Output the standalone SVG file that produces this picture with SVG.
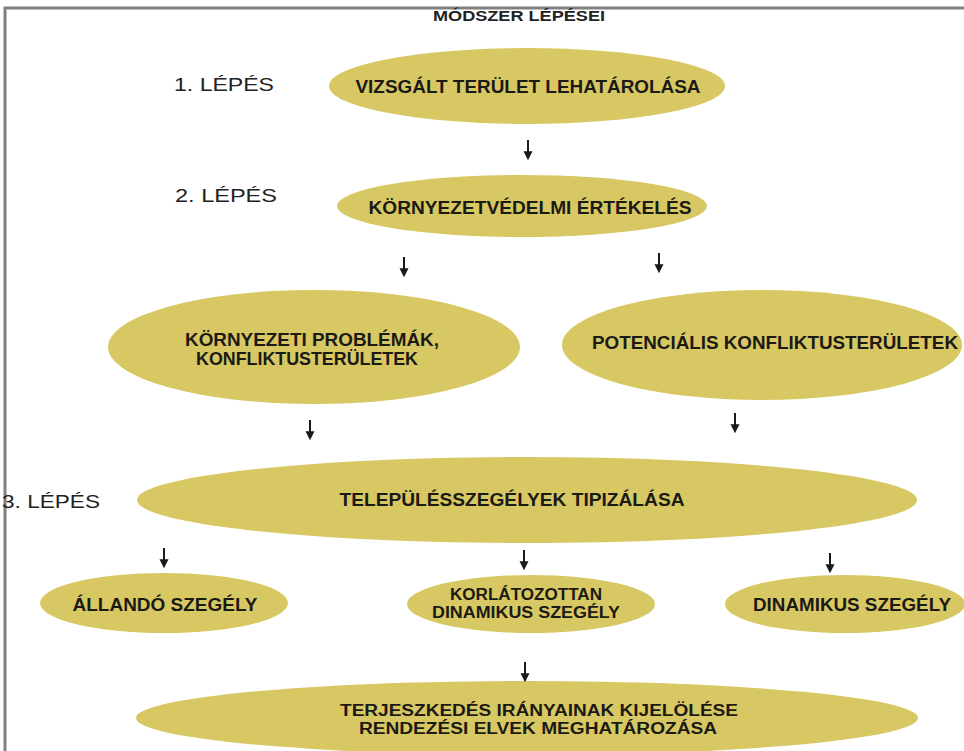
<svg xmlns="http://www.w3.org/2000/svg" width="964" height="751" viewBox="0 0 964 751">
<defs>
<style>
.node ellipse{fill:#d8c864;}
.lbl{font-family:"Liberation Sans",Arial,sans-serif;font-weight:bold;font-size:18px;fill:#1c1a14;}
.sm{font-size:16px;}
.step{font-family:"Liberation Sans",Arial,sans-serif;font-size:19px;fill:#222;}
.title{font-family:"Liberation Sans",Arial,sans-serif;font-weight:bold;font-size:14px;fill:#222;}
.conn line{stroke:#1a1a1a;stroke-width:2;marker-end:url(#ah);}
</style>
<marker id="ah" viewBox="0 0 10 10" refX="2" refY="5" markerWidth="4.5" markerHeight="5" orient="auto" markerUnits="strokeWidth">
<path d="M0,0 L10,5 L0,10 z" fill="#1a1a1a"/>
</marker>
</defs>
<rect width="964" height="751" fill="#fff"/>
<path d="M5,751 V8 H964" fill="none" stroke="#808080" stroke-width="3"/>
<text class="title" x="519" y="21" text-anchor="middle" textLength="172" lengthAdjust="spacingAndGlyphs">MÓDSZER LÉPÉSEI</text>
<text class="step" x="174" y="91" textLength="100" lengthAdjust="spacingAndGlyphs">1. LÉPÉS</text>
<text class="step" x="175" y="202" textLength="102" lengthAdjust="spacingAndGlyphs">2. LÉPÉS</text>
<text class="step" x="2" y="508" textLength="98" lengthAdjust="spacingAndGlyphs">3. LÉPÉS</text>
<g id="n1" class="node"><ellipse cx="527" cy="86" rx="198" ry="38"/><text class="lbl" x="528" y="93" text-anchor="middle" textLength="345" lengthAdjust="spacingAndGlyphs">VIZSGÁLT TERÜLET LEHATÁROLÁSA</text></g>
<g id="n2" class="node"><ellipse cx="522" cy="206" rx="185" ry="31"/><text class="lbl" x="530" y="214" text-anchor="middle" textLength="323" lengthAdjust="spacingAndGlyphs">KÖRNYEZETVÉDELMI ÉRTÉKELÉS</text></g>
<g id="n3" class="node"><ellipse cx="314" cy="347" rx="206" ry="57"/><text class="lbl" x="312" y="346" text-anchor="middle" textLength="254" lengthAdjust="spacingAndGlyphs">KÖRNYEZETI PROBLÉMÁK,</text><text class="lbl" x="307" y="365" text-anchor="middle" textLength="222" lengthAdjust="spacingAndGlyphs">KONFLIKTUSTERÜLETEK</text></g>
<g id="n4" class="node"><ellipse cx="762" cy="345" rx="200" ry="55"/><text class="lbl" x="775" y="349" text-anchor="middle" textLength="366" lengthAdjust="spacingAndGlyphs">POTENCIÁLIS KONFLIKTUSTERÜLETEK</text></g>
<g id="n5" class="node"><ellipse cx="527" cy="500" rx="390" ry="43"/><text class="lbl" x="512" y="506" text-anchor="middle" textLength="345" lengthAdjust="spacingAndGlyphs">TELEPÜLÉSSZEGÉLYEK TIPIZÁLÁSA</text></g>
<g id="n6" class="node"><ellipse cx="164" cy="603" rx="124" ry="30"/><text class="lbl" x="165" y="611" text-anchor="middle" textLength="185" lengthAdjust="spacingAndGlyphs">ÁLLANDÓ SZEGÉLY</text></g>
<g id="n7" class="node"><ellipse cx="531" cy="604" rx="124" ry="29"/><text class="lbl sm" x="526" y="600" text-anchor="middle" textLength="152" lengthAdjust="spacingAndGlyphs">KORLÁTOZOTTAN</text><text class="lbl sm" x="526" y="618" text-anchor="middle" textLength="188" lengthAdjust="spacingAndGlyphs">DINAMIKUS SZEGÉLY</text></g>
<g id="n8" class="node"><ellipse cx="845" cy="604" rx="120" ry="29"/><text class="lbl" x="852" y="611" text-anchor="middle" textLength="198" lengthAdjust="spacingAndGlyphs">DINAMIKUS SZEGÉLY</text></g>
<g id="n9" class="node"><ellipse cx="527" cy="718" rx="391" ry="37"/><text class="lbl sm" x="539" y="716" text-anchor="middle" textLength="398" lengthAdjust="spacingAndGlyphs">TERJESZKEDÉS IRÁNYAINAK KIJELÖLÉSE</text><text class="lbl sm" x="538" y="734" text-anchor="middle" textLength="358" lengthAdjust="spacingAndGlyphs">RENDEZÉSI ELVEK MEGHATÁROZÁSA</text></g>
<g id="connectors" class="conn">
<line x1="528" y1="140" x2="528" y2="153"/>
<line x1="404" y1="257" x2="404" y2="270"/>
<line x1="659" y1="253" x2="659" y2="266"/>
<line x1="310" y1="420" x2="310" y2="433"/>
<line x1="735" y1="413" x2="735" y2="426"/>
<line x1="164" y1="548" x2="164" y2="561"/>
<line x1="524" y1="550" x2="524" y2="563"/>
<line x1="830" y1="553" x2="830" y2="566"/>
<line x1="525" y1="662" x2="525" y2="675"/>
</g>
</svg>
